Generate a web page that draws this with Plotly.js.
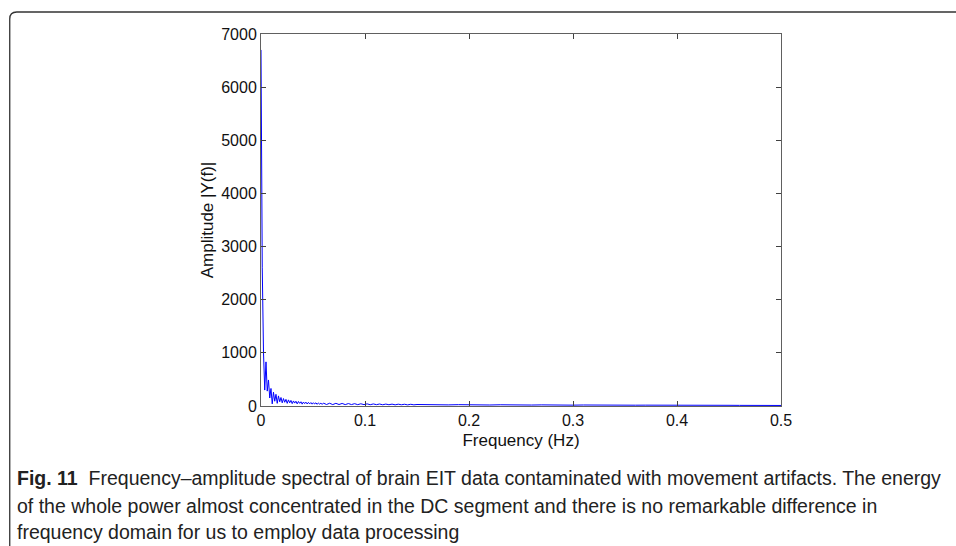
<!DOCTYPE html>
<html>
<head>
<meta charset="utf-8">
<script src="https://cdn.plot.ly/plotly-3.0.1.min.js"></script>
<style>html,body{margin:0;padding:0;background:#fff;}#chart{width:956px;height:546px;}</style>
</head>
<body>
<div id="chart"></div>
<script>
// Frequency bins (Hz)
const freqLow = [0, 0.0012, 0.0024, 0.0036, 0.0048, 0.006, 0.0072, 0.0084, 0.0096, 0.0108,
  0.012, 0.0132, 0.0144, 0.0156, 0.0168, 0.018, 0.0192, 0.0204, 0.0216, 0.0228,
  0.024, 0.0252, 0.0264, 0.0276, 0.0288, 0.03, 0.0312, 0.0324, 0.0336, 0.0348,
  0.036, 0.0372, 0.0384, 0.0396, 0.0408, 0.042, 0.0432, 0.0444, 0.0456, 0.0468,
  0.048, 0.0492, 0.0504, 0.0516, 0.0528, 0.054, 0.0552, 0.0564, 0.0576, 0.0588];
const ampLow = [6700, 2600, 1000, 300, 830, 280, 490, 150, 330, 40,
  260, 90, 220, 50, 190, 80, 160, 60, 140, 70,
  125, 50, 115, 60, 105, 45, 95, 55, 90, 40,
  85, 50, 80, 35, 75, 45, 72, 38, 68, 40,
  65, 35, 62, 38, 60, 32, 58, 35, 55, 30];
const freqMid = [0.06, 0.063, 0.066, 0.069, 0.072, 0.075, 0.078, 0.081, 0.084, 0.087,
  0.09, 0.093, 0.096, 0.099, 0.102, 0.105, 0.108, 0.111, 0.114, 0.117,
  0.12, 0.123, 0.126, 0.129, 0.132, 0.135, 0.138, 0.141, 0.144, 0.147];
const ampMid = [55, 28, 52, 27, 50, 28, 48, 26, 46, 27,
  44, 25, 42, 26, 40, 24, 39, 25, 37, 23,
  36, 24, 35, 22, 34, 23, 33, 21, 32, 22];
const freqHigh = [0.15, 0.16, 0.17, 0.18, 0.19, 0.2, 0.21, 0.22, 0.23, 0.24,
  0.25, 0.26, 0.27, 0.28, 0.29, 0.3, 0.31, 0.32, 0.33, 0.34,
  0.35, 0.36, 0.37, 0.38, 0.39, 0.4, 0.41, 0.42, 0.43, 0.44,
  0.45, 0.46, 0.47, 0.48, 0.49, 0.5];
const ampHigh = [28, 22, 26, 21, 25, 20, 24, 19, 23, 18,
  22, 18, 21, 17, 20, 16, 19, 16, 18, 15,
  17, 15, 16, 14, 16, 13, 15, 13, 14, 12,
  13, 12, 12, 11, 11, 10];

const xTicks = [0, 0.1, 0.2, 0.3, 0.4, 0.5];
const xTickText = ['0', '0.1', '0.2', '0.3', '0.4', '0.5'];
const yTicks = [0, 1000, 2000, 3000, 4000, 5000, 6000, 7000];
const yTickText = ['0', '1000', '2000', '3000', '4000', '5000', '6000', '7000'];

const captionLines = [
  '<b>Fig. 11</b>  Frequency–amplitude spectral of brain EIT data contaminated with movement artifacts. The energy',
  'of the whole power almost concentrated in the DC segment and there is no remarkable difference in',
  'frequency domain for us to employ data processing'
];

const freq = freqLow.concat(freqMid, freqHigh);
const amp = ampLow.concat(ampMid, ampHigh);

const W = 956, H = 546;
const L = 260.5, R = 781, T = 34, B = 406;
const px = x => (x - L) / (R - L);
const py = y => (B - y) / (B - T);

const trace = {
  x: freq, y: amp, type: 'scatter', mode: 'lines',
  line: {color: '#0000ff', width: 1},
  hoverinfo: 'skip'
};

const axisCommon = {
  showline: true, mirror: 'ticks', linecolor: '#606060', linewidth: 1,
  ticks: 'inside', ticklen: 5, tickcolor: '#404040', tickwidth: 1,
  showgrid: false, zeroline: false,
  tickfont: {family: 'Liberation Sans, Arial, sans-serif', size: 16, color: '#111'}
};

const layout = {
  width: W, height: H,
  margin: {l: L, r: W - R, t: T, b: H - B, pad: 0},
  paper_bgcolor: '#fff', plot_bgcolor: '#fff',
  showlegend: false,
  xaxis: Object.assign({}, axisCommon, {
    range: [0, 0.5], tickvals: xTicks, ticktext: xTickText,
    title: {text: 'Frequency (Hz)', standoff: 5,
      font: {family: 'Liberation Sans, Arial, sans-serif', size: 17, color: '#111'}}
  }),
  yaxis: Object.assign({}, axisCommon, {
    range: [0, 7000], tickvals: yTicks, ticktext: yTickText,
    title: {text: 'Amplitude |Y(f)|', standoff: 3,
      font: {family: 'Liberation Sans, Arial, sans-serif', size: 17, color: '#111'}}
  }),
  shapes: [{
    type: 'path', xref: 'paper', yref: 'paper', layer: 'above',
    path: 'M ' + px(9) + ' ' + py(560) + ' L ' + px(9) + ' ' + py(19) +
          ' Q ' + px(9) + ' ' + py(12) + ' ' + px(16) + ' ' + py(12) +
          ' L ' + px(980) + ' ' + py(12),
    line: {color: '#333', width: 1.3}
  }],
  annotations: captionLines.map((t, i) => ({
    text: t, xref: 'paper', yref: 'paper',
    x: px(14), y: py([478, 506, 532][i]),
    xanchor: 'left', yanchor: 'middle', showarrow: false, align: 'left',
    font: {family: 'Liberation Sans, Arial, sans-serif', size: 19.5, color: '#222'}
  }))
};

Plotly.newPlot('chart', [trace], layout, {staticPlot: true, displayModeBar: false});
</script>
</body>
</html>
